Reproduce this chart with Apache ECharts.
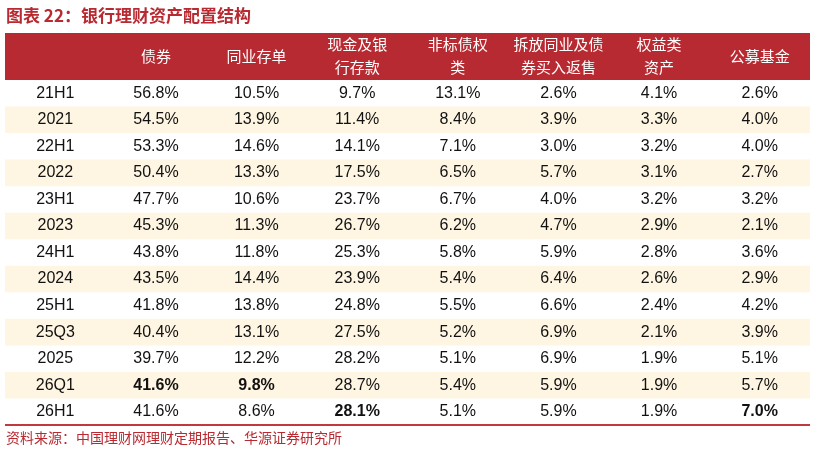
<!DOCTYPE html><html><head><meta charset="utf-8"><script src="https://cdn.jsdelivr.net/npm/echarts@6/dist/echarts.min.js"></script>
<style>body{margin:0}#c{width:815px;height:459px}</style></head><body><div id="c"></div><script>
const headers=['','债券','同业存单','现金及银\n行存款','非标债权\n类','拆放同业及债\n券买入返售','权益类\n资产','公募基金'];
const periods=['21H1','2021','22H1','2022','23H1','2023','24H1','2024','25H1','25Q3','2025','26Q1','26H1'];
const bonds=[56.8,54.5,53.3,50.4,47.7,45.3,43.8,43.5,41.8,40.4,39.7,41.6,41.6];
const ncd=[10.5,13.9,14.6,13.3,10.6,11.3,11.8,14.4,13.8,13.1,12.2,9.8,8.6];
const cash=[9.7,11.4,14.1,17.5,23.7,26.7,25.3,23.9,24.8,27.5,28.2,28.7,28.1];
const nonstd=[13.1,8.4,7.1,6.5,6.7,6.2,5.8,5.4,5.5,5.2,5.1,5.4,5.1];
const interbank=[2.6,3.9,3.0,5.7,4.0,4.7,5.9,6.4,6.6,6.9,6.9,5.9,5.9];
const equity=[4.1,3.3,3.2,3.1,3.2,2.9,2.8,2.6,2.4,2.1,1.9,1.9,1.9];
const funds=[2.6,4.0,4.0,2.7,3.2,2.1,3.6,2.9,4.2,3.9,5.1,5.7,7.0];
const boldCells=[[1,11],[2,11],[3,12],[7,12]];
const cols=[bonds,ncd,cash,nonstd,interbank,equity,funds];
const data=[];
periods.forEach((p,r)=>{data.push([0,r,p]);cols.forEach((a,i)=>data.push([i+1,r,a[r].toFixed(1)+'%']));});
const isBold=(c,r)=>boldCells.some(b=>b[0]===c&&b[1]===r);
const chart=echarts.init(document.getElementById('c'));
chart.setOption({animation:false,
grid:{left:5,right:5,top:80,bottom:34},
xAxis:{type:'category',data:headers,position:'top',axisLine:{show:false},axisTick:{show:false},
 axisLabel:{interval:0,color:'#fff',fontSize:15,lineHeight:23,fontFamily:'Noto Sans CJK SC',margin:24,verticalAlign:'middle'}},
yAxis:{type:'category',data:periods,inverse:true,show:false},
graphic:[
 {type:'rect',z:-1,shape:{x:5,y:33,width:805,height:47},style:{fill:'#B82A31'}},
 {type:'text',left:6,top:7,style:{text:'图表 22：银行理财资产配置结构',fill:'#B82A31',font:'bold 17px "Noto Sans CJK SC"'}},
 {type:'text',left:6,top:431,style:{text:'资料来源：中国理财网理财定期报告、华源证券研究所',fill:'#B82A31',font:'14px "Noto Sans CJK SC"'}},
 {type:'rect',shape:{x:5,y:424,width:805,height:2},style:{fill:'#C0393F'}}
],
series:[
 {type:'custom',silent:true,z:1,data:periods.map((p,r)=>[0,r]),renderItem:(params,api)=>{
   const r=api.value(1);if(r%2===0)return null;
   const c=api.coord([0,r]);const h=api.size([1,1])[1];
   return {type:'rect',shape:{x:5,y:c[1]-h/2,width:805,height:h},style:{fill:'#FEF6E3'}};}},
 {type:'custom',silent:true,z:2,data:data,renderItem:(params,api)=>{
   const c=api.coord([api.value(0),api.value(1)]);const d=data[params.dataIndex];
   return {type:'text',x:c[0],y:c[1],style:{text:d[2],align:'center',verticalAlign:'middle',fill:'#111',
     font:(isBold(d[0],d[1])?'bold ':'')+'16px "Liberation Sans", Arial'}};}}
]});
</script></body></html>
